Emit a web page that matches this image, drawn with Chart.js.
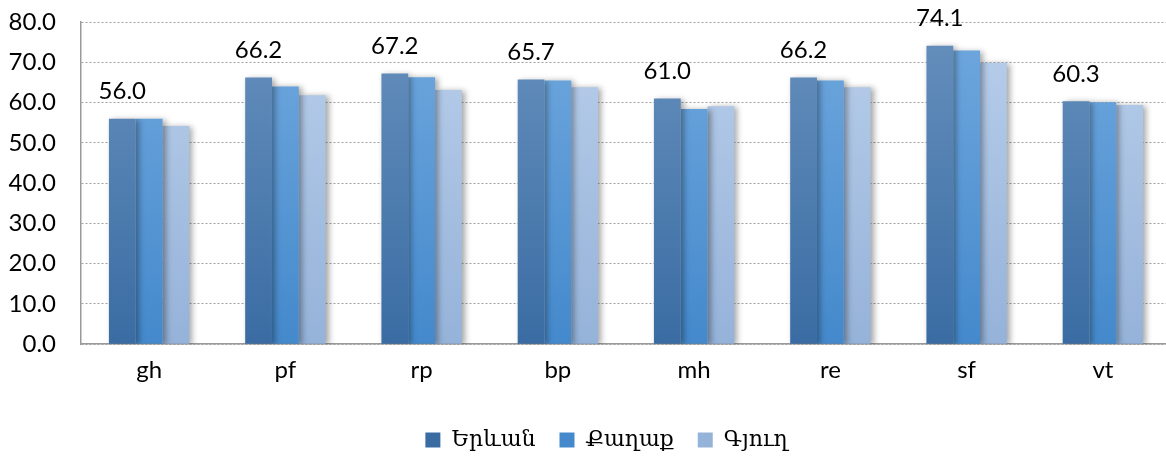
<!DOCTYPE html>
<html>
<head>
<meta charset="utf-8">
<script src="https://cdn.jsdelivr.net/npm/chart.js@4/dist/chart.umd.min.js"></script>
<style>
  html, body { margin: 0; padding: 0; background: #fff; }
  #wrap { width: 1166px; height: 457px; overflow: hidden; }
</style>
</head>
<body>
<div id="wrap"><canvas id="c" width="1171" height="457"></canvas></div>
<script>
// Categories and the three series (Yerevan, city, village)
const categories = ['gh', 'pf', 'rp', 'bp', 'mh', 're', 'sf', 'vt'];
const seriesNames = ['Երևան', 'Քաղաք', 'Գյուղ'];
const yerevan = [56.0, 66.2, 67.2, 65.7, 61.0, 66.2, 74.1, 60.3];
const city    = [56.0, 64.0, 66.3, 65.5, 58.4, 65.5, 72.9, 60.1];
const village = [54.2, 61.8, 63.1, 63.8, 59.1, 63.8, 69.9, 59.4];
const yTicks  = [0, 10, 20, 30, 40, 50, 60, 70, 80];

const labelFont = 'Lato, "Liberation Sans", sans-serif';

const gradientStops = [
  ['#6690bd', '#3a6ca3'],
  ['#70a8de', '#4489cc'],
  ['#b9cfeb', '#95b2d9']
];

function barGradient(idx) {
  return function (ctx) {
    const chart = ctx.chart;
    const area = chart.chartArea;
    if (!area) return gradientStops[idx][1];
    const g = chart.ctx.createLinearGradient(0, area.top, 0, area.bottom);
    g.addColorStop(0, gradientStops[idx][0]);
    g.addColorStop(1, gradientStops[idx][1]);
    return g;
  };
}

// Soft drop shadow under the bars
const barShadow = {
  id: 'barShadow',
  beforeDatasetsDraw(chart) {
    const c = chart.ctx;
    c.save();
    c.shadowColor = 'rgba(0,0,0,0.35)';
    c.shadowBlur = 6;
    c.shadowOffsetX = 3;
    c.shadowOffsetY = 1;
  },
  afterDatasetsDraw(chart) {
    chart.ctx.restore();
  }
};

// Nudge the centred legend to its place below the axis labels
const legendShift = {
  id: 'legendShift',
  beforeDraw(chart) {
    const lg = chart.legend;
    if (lg && !lg._shifted) {
      lg.left += 42;
      lg.top += 8;
      lg.bottom += 8;
      lg._shifted = true;
    }
  }
};

// Value labels above the first series
const valueLabels = {
  id: 'valueLabels',
  afterDraw(chart) {
    const c = chart.ctx;
    const meta = chart.getDatasetMeta(0);
    c.save();
    c.font = '24px ' + labelFont;
    c.fillStyle = '#000';
    c.textAlign = 'center';
    c.textBaseline = 'middle';
    meta.data.forEach((bar, i) => {
      c.fillText(yerevan[i].toFixed(1), bar.x, bar.y - 27);
    });
    c.restore();
  }
};

const datasets = [yerevan, city, village].map((vals, i) => ({
  label: seriesNames[i],
  data: vals,
  backgroundColor: barGradient(i),
  borderWidth: 0
}));

new Chart(document.getElementById('c'), {
  type: 'bar',
  data: { labels: categories, datasets },
  plugins: [barShadow, legendShift, valueLabels],
  options: {
    responsive: false,
    animation: false,
    devicePixelRatio: 1,
    layout: { padding: { top: 22, right: 0, left: 0, bottom: 4 } },
    datasets: { bar: { categoryPercentage: 0.59, barPercentage: 1.0 } },
    plugins: {
      legend: {
        position: 'bottom',
        labels: {
          boxWidth: 15,
          boxHeight: 15,
          padding: 24,
          color: '#000',
          font: { family: '"DejaVu Serif", serif', size: 22 }
        }
      },
      tooltip: { enabled: false }
    },
    scales: {
      x: {
        grid: { display: false, drawTicks: false },
        border: { display: true, color: '#9a9a9a', width: 1.5 },
        ticks: {
          color: '#000',
          padding: 12,
          font: { family: labelFont, size: 24 }
        }
      },
      y: {
        min: 0,
        max: 80,
        afterBuildTicks(axis) { axis.ticks = yTicks.map(v => ({ value: v })); },
        afterFit(axis) {
          axis.width = 81;
          axis.paddingTop = 0;
        },
        grid: {
          color: '#a0a0a0',
          lineWidth: 1,
          drawTicks: false
        },
        border: { display: true, color: '#9a9a9a', width: 1.5, dash: [2, 2] },
        ticks: {
          color: '#000',
          padding: 25,
          font: { family: labelFont, size: 24 },
          callback: v => Number(v).toFixed(1)
        }
      }
    }
  }
});
</script>
</body>
</html>
